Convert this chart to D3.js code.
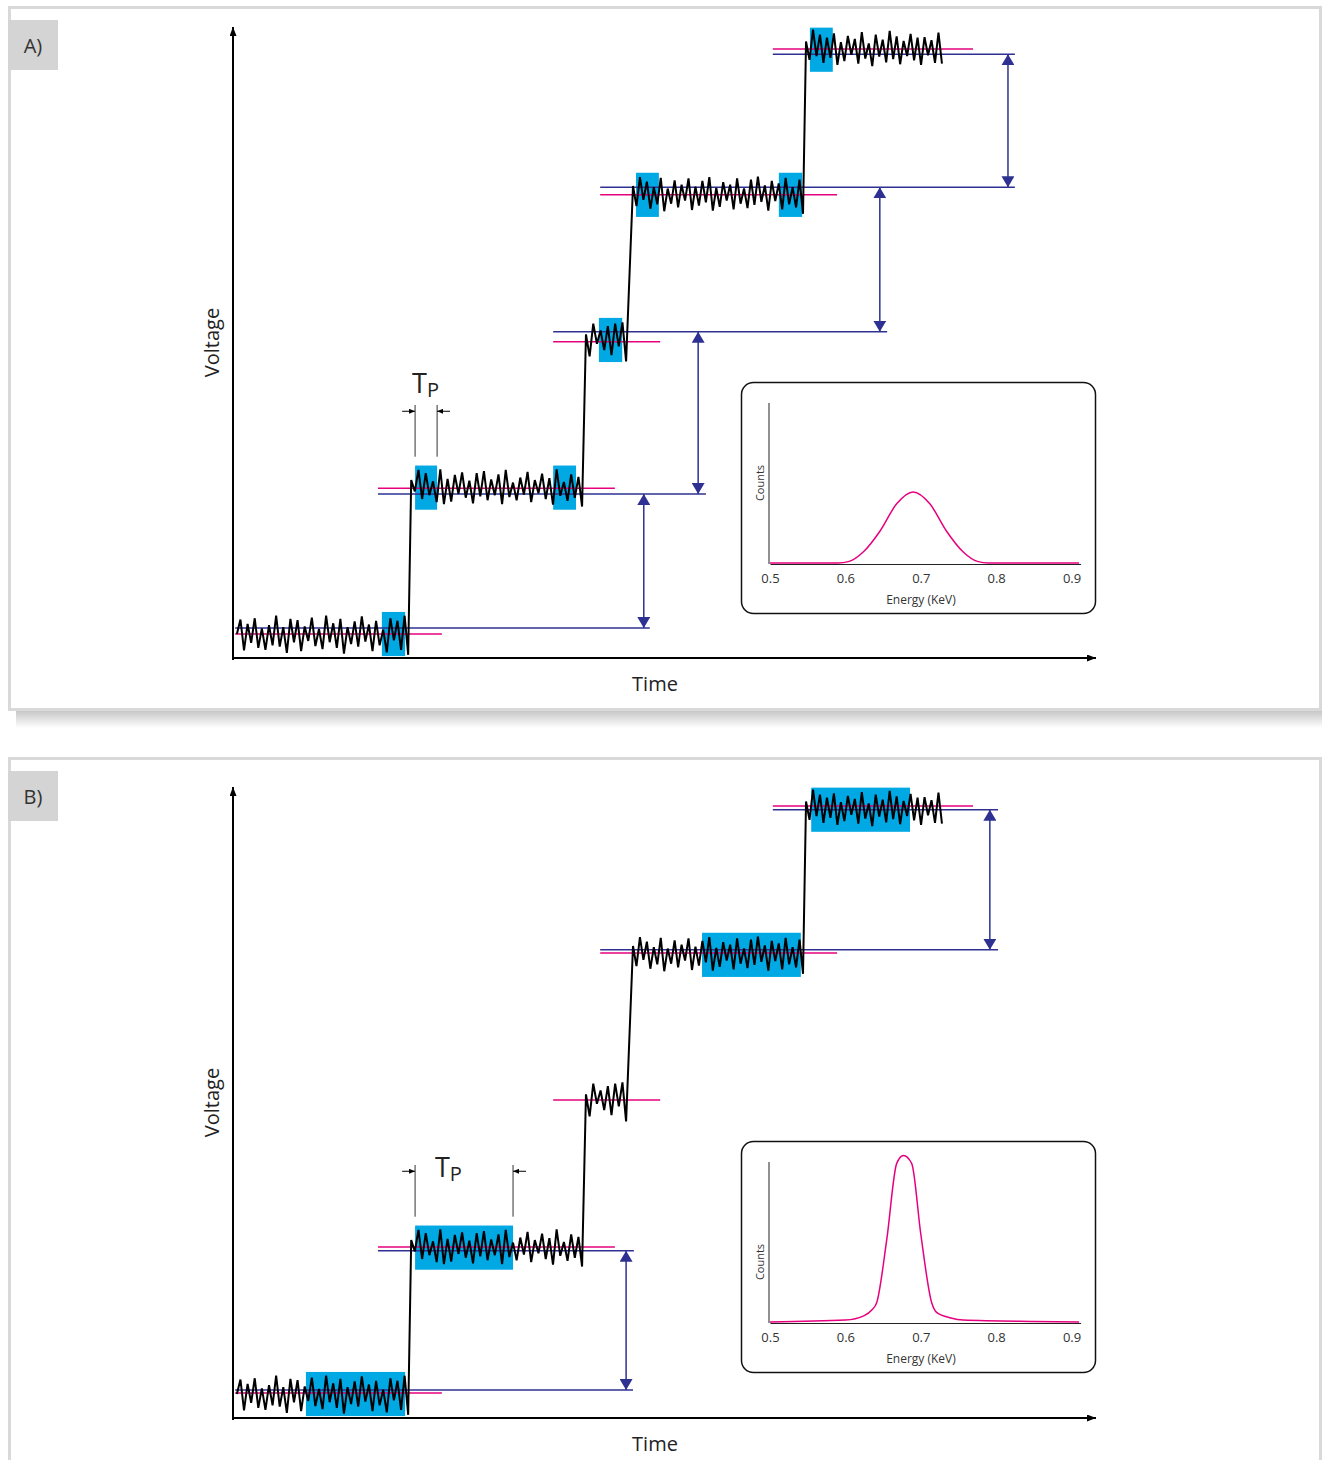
<!DOCTYPE html>
<html>
<head>
<meta charset="utf-8">
<script src="https://cdn.jsdelivr.net/npm/d3@7"></script>
<style>
  body { margin: 0; background: #fff; }
  svg { display: block; font-family: "Open Sans", sans-serif; }
</style>
</head>
<body>
<svg width="1322" height="1460"></svg>
<script>
// schematic units: time 0..200, voltage 0..100
const stepStart = [0.9, 41.3, 81.8, 92.7, 132.8];
const stepEnd   = [40.6, 80.9, 91.1, 132.1, 164.3];
const stepLevel = [3.8, 27.0, 50.4, 73.4, 96.4];

// noise on each step (offset from step level)
const noise0 = [0, 2.3, -2.6, 1.6, -1.4, 2.5, -2.2, 0.9, -2.5, 1.4,
  -1.8, 2.9, -2.0, 1.1, -3.0, 2.4, -1.3, 2.2, -2.7, 1.2,
  -1.1, 2.6, -1.9, 0.8, -2.4, 2.9, -1.3, 1.7, -2.2, 2.4,
  -3.1, 1.1, -1.6, 2.0, -2.0, 2.8, -1.2, 1.5, -2.7, 2.1,
  -1.8, 0.7, -2.9, 2.5, -1.0, 2.1, -2.5, 2.9, -3.3];
const noise1 = [1.2, -0.6, 2.8, -1.8, 2.3, -1.2, 1.0, -2.3, 2.9, -2.6,
  1.4, -2.2, 2.0, -1.0, 2.4, -1.6, 1.1, -2.5, 2.3, -1.4,
  2.6, -2.0, 1.3, -1.2, 2.1, -2.6, 2.8, -1.5, 0.8, -2.0,
  1.6, -1.1, 2.5, -2.3, 1.2, -0.9, 2.2, -1.8, 1.5, -2.7,
  2.9, -1.3, 0.9, -2.1, 2.1, -1.6, 1.7, -3.0];
const noise2 = [0.9, -2.6, 2.6, -0.6, 1.5, -1.6, 2.2, -2.4, 2.6, -1.0, 2.8, -3.4];
const noise3 = [1.4, -1.8, 2.8, -0.8, 2.1, -2.2, 1.2, -1.5, 2.7, -2.6,
  1.0, -1.4, 2.3, -2.0, 1.6, -0.9, 2.6, -2.4, 1.3, -1.7,
  2.2, -1.2, 2.8, -2.5, 1.1, -1.9, 2.0, -0.9, 1.6, -2.3,
  2.6, -1.4, 1.0, -2.1, 2.4, -1.6, 2.9, -1.1, 1.5, -2.5,
  2.2, -1.0, 1.8, -2.3, 2.7, -1.5, 1.2, -2.0, 2.4, -3.0];
const noise4 = [1.3, -1.6, 3.2, -1.0, 2.4, -2.1, 1.9, -1.3, 2.6, -2.4,
  1.2, -1.8, 2.2, -0.8, 1.7, -2.2, 2.8, -1.4, 1.0, -2.6,
  2.4, -1.1, 1.6, -2.0, 3.0, -1.5, 2.1, -2.3, 1.4, -1.0,
  2.5, -1.7, 1.9, -2.4, 2.0, -0.9, 1.5, -2.1, 2.7, -2.2];
const noise = [noise0, noise1, noise2, noise3, noise4];

// reference lines
const lineFrom = [0.5, 33.6, 74.2, 85.1, 125.1];
const pinkTo   = [48.4, 88.5, 99.0, 140.0, 171.5];
const pinkA    = [3.8, 26.9, 50.1, 73.4, 96.5];
const blueA    = [4.75, 26.0, 51.7, 74.6, 95.7];
const blueToA  = [96.6, 109.6, 151.6, 181.2, 181.2];
const pinkB    = [3.96, 27.1, 50.4, 73.7, 97.0];
const blueB    = [4.44, 26.5, null, 74.2, 96.4];
const blueToB  = [92.7, 92.9, null, 177.3, 177.3];

// double arrows: [time, from step, to step]
const arrowsA = [[95.2, 0, 1], [107.8, 1, 2], [149.9, 2, 3], [179.6, 3, 4]];
const arrowsB = [[91.1, 0, 1], [175.4, 3, 4]];

// shaping windows: [step, from, to]
const windowsA = [[0, 34.5, 39.9], [1, 42.2, 47.3], [1, 74.2, 79.5], [2, 84.8, 90.2],
                  [3, 93.4, 98.7], [3, 126.5, 131.9], [4, 133.7, 139.0]];
const windowsB = [[0, 16.9, 39.9], [1, 42.2, 64.9], [3, 108.7, 131.6], [4, 134.0, 156.9]];

const tpA = [42.2, 47.3];
const tpB = [42.2, 64.9];

// inset spectra
const energyTicks = [0.5, 0.6, 0.7, 0.8, 0.9];
const energyA = [0.50, 0.59, 0.605, 0.624, 0.646, 0.668, 0.69, 0.712, 0.734, 0.756, 0.775, 0.79, 0.91];
const countsA = [0, 0, 0.01, 0.07, 0.2, 0.37, 0.444, 0.37, 0.2, 0.07, 0.01, 0, 0];
const energyB = [0.50, 0.60, 0.625, 0.635, 0.6415, 0.655, 0.668, 0.677, 0.688, 0.70, 0.7145, 0.721, 0.74, 0.756, 0.85, 0.91];
const countsB = [0.0, 0.012, 0.04, 0.075, 0.12, 0.52, 0.99, 1.04, 0.99, 0.55, 0.12, 0.06, 0.025, 0.012, 0.003, 0.0];

const PINK = "#e6007e", BLUE = "#2e3192", CYAN = "#00a8e4";

const svg = d3.select("svg");
const defs = svg.append("defs");

function marker(id, color, len, wid) {
  defs.append("marker")
      .attr("id", id)
      .attr("viewBox", `0 0 ${len} ${wid}`)
      .attr("refX", len).attr("refY", wid / 2)
      .attr("markerWidth", len).attr("markerHeight", wid)
      .attr("markerUnits", "userSpaceOnUse")
      .attr("orient", "auto-start-reverse")
    .append("path")
      .attr("d", `M0,0L${len},${wid / 2}L0,${wid}Z`)
      .attr("fill", color);
}
marker("arrBlue", BLUE, 11, 13);
marker("arrAxis", "#000", 9, 7);
marker("arrSmall", "#000", 6, 5);

const grad = defs.append("linearGradient").attr("id", "shadow")
    .attr("x1", 0).attr("y1", 0).attr("x2", 0).attr("y2", 1);
grad.append("stop").attr("offset", "0%").attr("stop-color", "#c4c4c4");
grad.append("stop").attr("offset", "100%").attr("stop-color", "#fff");

const x = d3.scaleLinear().domain([0, 200]).range([233, 1096]);

function drawPanel(p) {
  const y = d3.scaleLinear().domain([0, 100]).range([p.y0, p.y0 - 631]);
  const g = svg.append("g");

  // frame
  g.append("rect")
      .attr("x", 9.5).attr("y", p.top + 1.5)
      .attr("width", 1311).attr("height", p.frameH)
      .attr("fill", "#fff").attr("stroke", "#d9d9d9").attr("stroke-width", 3);
  g.append("rect")
      .attr("x", 8).attr("y", p.top + 14).attr("width", 50).attr("height", 50)
      .attr("fill", "#d4d4d4");
  g.append("text")
      .attr("x", 33).attr("y", p.top + 40).attr("dy", "0.35em")
      .attr("text-anchor", "middle")
      .style("font-size", "20px").attr("fill", "#333")
      .text(p.label);

  // shaping windows
  g.selectAll(".win").data(p.windows).enter().append("rect")
      .attr("x", d => x(d[1]))
      .attr("width", d => x(d[2]) - x(d[1]))
      .attr("y", d => y(stepLevel[d[0]] + 3.5))
      .attr("height", d => y(stepLevel[d[0]] - 3.5) - y(stepLevel[d[0]] + 3.5))
      .attr("fill", CYAN);

  // pink and blue level lines
  p.pink.forEach((v, i) => {
    g.append("line")
        .attr("x1", x(lineFrom[i])).attr("x2", x(pinkTo[i]))
        .attr("y1", y(v)).attr("y2", y(v))
        .attr("stroke", PINK).attr("stroke-width", 1.5);
  });
  p.blue.forEach((v, i) => {
    if (v == null) return;
    g.append("line")
        .attr("x1", x(lineFrom[i])).attr("x2", x(p.blueTo[i]))
        .attr("y1", y(v)).attr("y2", y(v))
        .attr("stroke", BLUE).attr("stroke-width", 1.5);
  });

  // noisy staircase
  const pts = [];
  noise.forEach((arr, i) => {
    arr.forEach((d, j) => {
      pts.push([stepStart[i] + (stepEnd[i] - stepStart[i]) * j / (arr.length - 1), stepLevel[i] + d]);
    });
  });
  g.append("path")
      .datum(pts)
      .attr("d", d3.line().x(d => x(d[0])).y(d => y(d[1])))
      .attr("fill", "none").attr("stroke", "#000")
      .attr("stroke-width", 2).attr("stroke-linejoin", "miter");

  // double arrows between levels
  p.arrows.forEach(a => {
    g.append("line")
        .attr("x1", x(a[0])).attr("x2", x(a[0]))
        .attr("y1", y(p.blue[a[1]])).attr("y2", y(p.blue[a[2]]))
        .attr("stroke", BLUE).attr("stroke-width", 1.5)
        .attr("marker-start", "url(#arrBlue)")
        .attr("marker-end", "url(#arrBlue)");
  });

  // axes
  g.append("line")
      .attr("x1", x(0)).attr("x2", x(0))
      .attr("y1", y(0) + 2).attr("y2", y(100))
      .attr("stroke", "#000").attr("stroke-width", 2)
      .attr("marker-end", "url(#arrAxis)");
  g.append("line")
      .attr("x1", x(0)).attr("x2", x(200))
      .attr("y1", y(0)).attr("y2", y(0))
      .attr("stroke", "#000").attr("stroke-width", 2)
      .attr("marker-end", "url(#arrAxis)");
  g.append("text")
      .attr("transform", `translate(219,${y(50)}) rotate(-90)`)
      .attr("text-anchor", "middle")
      .style("font-size", "20px").attr("fill", "#222")
      .text("Voltage");
  g.append("text")
      .attr("x", 655).attr("y", y(0) + 33)
      .attr("text-anchor", "middle")
      .style("font-size", "20px").attr("fill", "#222")
      .text("Time");

  // T_P marker
  const lv = stepLevel[1];
  p.tp.forEach(t => {
    g.append("line")
        .attr("x1", x(t)).attr("x2", x(t))
        .attr("y1", y(lv + 4.9)).attr("y2", y(lv + 13.1))
        .attr("stroke", "#333").attr("stroke-width", 1);
  });
  g.append("line")
      .attr("x1", x(p.tp[0] - 3)).attr("x2", x(p.tp[0]))
      .attr("y1", y(lv + 12.1)).attr("y2", y(lv + 12.1))
      .attr("stroke", "#000").attr("stroke-width", 1)
      .attr("marker-end", "url(#arrSmall)");
  g.append("line")
      .attr("x1", x(p.tp[1] + 3)).attr("x2", x(p.tp[1]))
      .attr("y1", y(lv + 12.1)).attr("y2", y(lv + 12.1))
      .attr("stroke", "#000").attr("stroke-width", 1)
      .attr("marker-end", "url(#arrSmall)");
  const tpText = g.append("text")
      .attr("x", x(p.tpLabel[0])).attr("y", y(lv + p.tpLabel[1]))
      .attr("fill", "#222").style("font-size", "27px");
  tpText.append("tspan").text("T");
  tpText.append("tspan").attr("dy", 4).style("font-size", "20px").text("P");

  drawInset(p.insetTop, p.energy, p.counts, p.countsY);
}

function drawInset(top, energy, counts, countsY) {
  const g = svg.append("g");
  g.append("rect")
      .attr("x", 741.5).attr("y", top + 0.5)
      .attr("width", 354).attr("height", 231).attr("rx", 12)
      .attr("fill", "#fff").attr("stroke", "#111").attr("stroke-width", 1.5);

  const xi = d3.scaleLinear().domain([0.5, 0.912]).range([770, 1080.6]);
  const yi = d3.scaleLinear().domain([0, 1]).range([top + 181, top + 21]);

  const xAxis = g.append("g")
      .attr("transform", `translate(0,${top + 182})`)
      .call(d3.axisBottom(xi).tickValues(energyTicks).tickSize(0).tickPadding(10).tickFormat(d3.format(".1f")));
  xAxis.select(".domain").attr("stroke", "#222");
  xAxis.selectAll("text").style("font-size", "13px").style("font-family", "Open Sans").attr("fill", "#333");

  g.append("line")
      .attr("x1", 769).attr("x2", 769)
      .attr("y1", top + 182).attr("y2", top + 21)
      .attr("stroke", "#222").attr("stroke-width", 1);

  g.append("path")
      .datum(energy.map((e, i) => [e, counts[i]]))
      .attr("d", d3.line().x(d => xi(d[0])).y(d => yi(d[1])).curve(d3.curveMonotoneX))
      .attr("fill", "none").attr("stroke", PINK).attr("stroke-width", 1.5);

  g.append("text")
      .attr("x", 921).attr("y", top + 222)
      .attr("text-anchor", "middle")
      .style("font-size", "12px").attr("fill", "#333")
      .text("Energy (KeV)");
  g.append("text")
      .attr("transform", `translate(764,${top + countsY}) rotate(-90)`)
      .attr("text-anchor", "middle")
      .style("font-size", "11px").attr("fill", "#333")
      .text("Counts");
}

// shadow under panel A
svg.append("rect")
    .attr("x", 16).attr("y", 710).attr("width", 1306).attr("height", 18)
    .attr("fill", "url(#shadow)");

drawPanel({
  label: "A)", top: 6, frameH: 702, y0: 658,
  windows: windowsA, pink: pinkA, blue: blueA, blueTo: blueToA, arrows: arrowsA,
  tp: tpA, tpLabel: [41.5, 15.0],
  insetTop: 382, energy: energyA, counts: countsA, countsY: 101
});
drawPanel({
  label: "B)", top: 757, frameH: 720, y0: 1418,
  windows: windowsB, pink: pinkB, blue: blueB, blueTo: blueToB, arrows: arrowsB,
  tp: tpB, tpLabel: [46.8, 11.2],
  insetTop: 1141, energy: energyB, counts: countsB, countsY: 121
});
</script>
</body>
</html>
